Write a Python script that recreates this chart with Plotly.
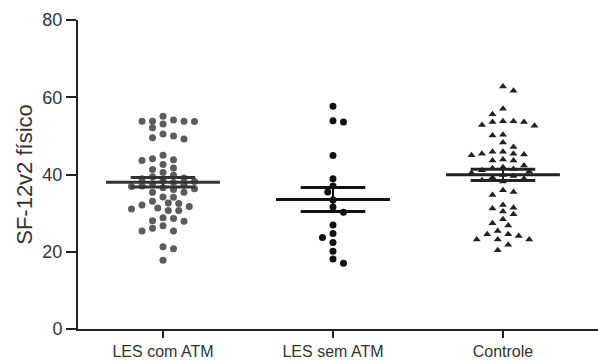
import plotly.graph_objects as go
import numpy as np

# ---------------- data ----------------
categories = ["LES com ATM", "LES sem ATM", "Controle"]

les_com_atm = [55.1, 54.1, 53.8, 53.7, 53.1, 53.8, 53.8, 52.1,
               50.5, 49.5, 49.2, 50.0,
               45.0, 44.1, 43.8, 43.6, 42.6, 41.7, 41.3, 40.5,
               39.8, 39.4, 39.1, 38.9, 38.4, 38.2, 37.9, 37.6, 37.3, 37.0,
               36.9, 36.6, 36.3, 36.1,
               35.4, 35.4, 34.2, 34.1,
               33.1, 32.5, 31.7, 31.1, 30.7, 30.7, 31.3, 32.1, 32.6,
               28.8, 28.0, 27.9, 28.6, 26.7, 26.1, 25.4, 25.4,
               21.3, 20.8, 17.8]

les_sem_atm = [57.7, 53.9, 53.6, 44.9, 38.9, 37.0,
               35.5, 33.4, 31.6, 30.2,
               26.9, 24.7, 23.7, 22.4, 20.1, 18.1, 17.0]

controle = [62.8, 61.7, 57.0, 55.6,
            53.8, 53.6, 52.8, 52.6, 53.6, 53.8,
            50.3, 50.1, 48.3,
            45.9, 45.4, 45.2, 45.0, 45.4, 45.9, 47.1,
            43.6, 43.6, 43.9,
            42.3, 41.9, 41.6, 41.4, 41.1, 40.8, 40.4,
            39.9, 39.6, 39.2, 38.9, 38.5, 38.2,
            35.9, 34.7, 35.5,
            31.4, 30.4, 29.7, 31.2, 32.1,
            28.4, 26.8, 27.4,
            24.5, 24.1, 23.2, 23.2, 23.2, 24.5, 25.4,
            21.8, 20.4]

y_ticks = [0, 20, 40, 60, 80]
y_title = "SF-12v2 físico"

# ---------------- layout constants ----------------
W, H = 598, 363
ML, MR, MT, MB = 78, 0, 20, 34
X_RANGE = [-0.5, 2.559]
Y_RANGE = [0, 80]
PX_X = (W - ML - MR) / (X_RANGE[1] - X_RANGE[0])
PX_Y = (H - MT - MB) / (Y_RANGE[1] - Y_RANGE[0])

FONT = "Liberation Sans, Arial, sans-serif"


def swarm_offsets(values, step_px=10.5, rx=10.0, ry=6.5):
    """Simple beeswarm: horizontal offsets (in axis units) so dots don't collide."""
    order = sorted(range(len(values)), key=lambda i: -values[i])
    placed = []
    offs = [0.0] * len(values)
    toggle = 1
    for i in order:
        ypx = values[i] * PX_Y
        cands = [0.0]
        for k in range(1, 60):
            cands += [toggle * k * step_px / 2, -toggle * k * step_px / 2]
        chosen = 0.0
        for c in cands:
            if all(((c - px) / rx) ** 2 + ((ypx - py) / ry) ** 2 >= 1 for px, py in placed):
                chosen = c
                break
        if chosen != 0:
            toggle = -toggle
        placed.append((chosen, ypx))
        offs[i] = chosen / PX_X
    return offs


groups = [
    dict(vals=les_com_atm, color="#5c5c5c", line="#333333", symbol="circle", size=7),
    dict(vals=les_sem_atm, color="#111111", line="#111111", symbol="circle", size=7),
    dict(vals=controle, color="#222222", line="#222222", symbol="triangle-up", size=7),
]

fig = go.Figure()

for gi, g in enumerate(groups):
    vals = np.array(g["vals"], dtype=float)
    offs = swarm_offsets(list(vals))
    fig.add_trace(go.Scatter(
        x=[gi + o for o in offs], y=vals, mode="markers",
        marker=dict(symbol=g["symbol"], size=g["size"], color=g["color"], line=dict(width=0)),
        showlegend=False, hoverinfo="y"))

for gi, g in enumerate(groups):
    vals = np.array(g["vals"], dtype=float)
    m = vals.mean()
    sem = vals.std(ddof=1) / np.sqrt(len(vals))
    fig.add_trace(go.Scatter(x=[gi - 0.335, gi + 0.335], y=[m, m], mode="lines",
                             line=dict(color=g["line"], width=3), showlegend=False, hoverinfo="skip"))
    for v in (m - sem, m + sem):
        fig.add_trace(go.Scatter(x=[gi - 0.19, gi + 0.19], y=[v, v], mode="lines",
                                 line=dict(color=g["line"], width=3), showlegend=False, hoverinfo="skip"))
    fig.add_trace(go.Scatter(x=[gi, gi], y=[m - sem, m + sem], mode="lines",
                             line=dict(color=g["line"], width=2), showlegend=False, hoverinfo="skip"))

fig.update_layout(
    width=W, height=H,
    margin=dict(l=ML, r=MR, t=MT, b=MB, autoexpand=False),
    paper_bgcolor="white", plot_bgcolor="white",
    font=dict(family=FONT, color="#333333"),
    xaxis=dict(range=X_RANGE, tickmode="array", tickvals=list(range(len(categories))),
               ticktext=categories, showgrid=False, zeroline=False,
               showline=True, linecolor="#222222", linewidth=2,
               ticks="outside", ticklen=7, tickwidth=2, tickcolor="#222222",
               tickfont=dict(size=16, color="#333333"), fixedrange=True),
    yaxis=dict(range=Y_RANGE, tickmode="array", tickvals=y_ticks,
               showgrid=False, zeroline=False,
               showline=True, linecolor="#222222", linewidth=2,
               ticks="outside", ticklen=10, tickwidth=2, tickcolor="#222222",
               tickfont=dict(size=18, color="#333333"),
               title=dict(text=y_title, font=dict(size=22, color="#333333"), standoff=4),
               fixedrange=True),
)

fig.write_html("out.html")
